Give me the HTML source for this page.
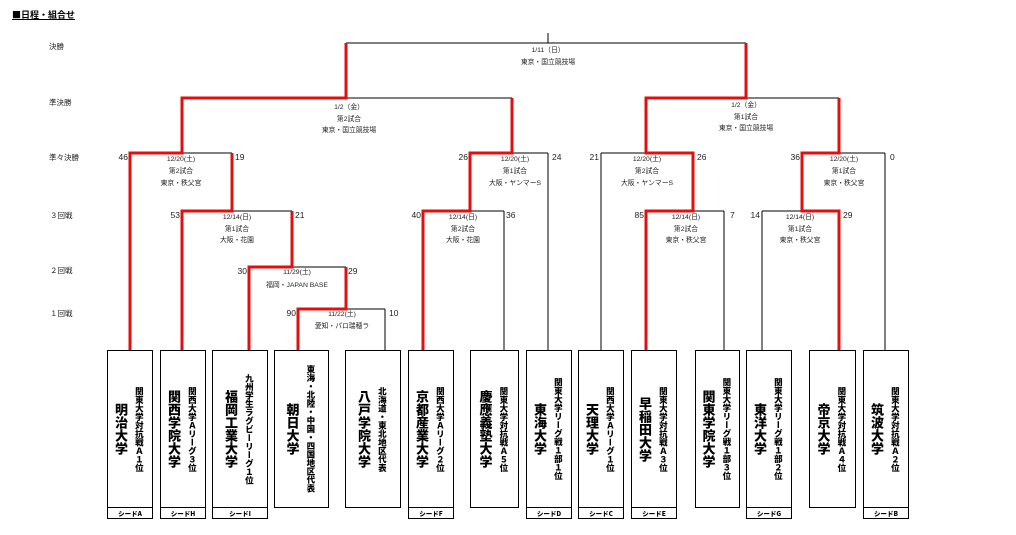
<!DOCTYPE html>
<html><head><meta charset="utf-8"><style>
html,body{margin:0;padding:0;background:#fff;}
body{width:1016px;height:535px;position:relative;overflow:hidden;font-family:"Liberation Sans","Noto Sans CJK JP",sans-serif;}
svg{position:absolute;left:0;top:0;}
.box{position:absolute;top:350px;height:158px;border:1px solid #000;box-sizing:border-box;display:flex;align-items:center;justify-content:center;background:#fff;}
.t{writing-mode:vertical-rl;text-align:center;font-weight:900;font-family:"Noto Sans CJK JP",sans-serif;line-height:1.15;}
.s{font-size:8.5px;}
.b{font-size:13px;}
.seed{position:absolute;top:508px;height:11px;border:1px solid #000;border-top:none;box-sizing:border-box;font-size:6.5px;font-weight:900;text-align:center;line-height:10px;font-family:"Noto Sans CJK JP",sans-serif;}
.lbl{position:absolute;font-size:7.5px;color:#222;font-family:"Noto Sans CJK JP",sans-serif;}
</style></head><body>
<div style="position:absolute;left:12px;top:8px;font-size:9px;font-weight:bold;text-decoration:underline;font-family:'Noto Sans CJK JP',sans-serif;">■日程・組合せ</div>
<div class="lbl" style="left:49px;top:41px">決勝</div>
<div class="lbl" style="left:49px;top:97px">準決勝</div>
<div class="lbl" style="left:49px;top:152px">準々決勝</div>
<div class="lbl" style="left:50px;top:210px">３回戦</div>
<div class="lbl" style="left:50px;top:265px">２回戦</div>
<div class="lbl" style="left:50px;top:308px">１回戦</div>

<svg width="1016" height="535" viewBox="0 0 1016 535">
<g stroke="#000" stroke-width="1" fill="none">
<path d="M130 350V153M182 350V211M249 350V267M298 350V309M385 350V309M423 350V211M504 350V211M548 350V153M601 350V153M646 350V211M724 350V211M762 350V211M839 350V211M885 350V153"/>
<path d="M346 309V267M292 267V211M232 211V153M182 153V98M470 211V153M512 153V98M346 98V43M548 43V33M746 98V43M646 153V98M693 211V153M839 153V98M802 211V153"/>
<path d="M298 309H385M249 267H346M182 211H292M423 211H504M646 211H724M762 211H839M130 153H232M470 153H548M601 153H693M802 153H885M182 98H512M646 98H839M346 43H746"/>
</g>
<g stroke="#e01010" stroke-width="3" fill="none" stroke-linejoin="miter">
<polyline points="130,350 130,153 182,153 182,98 346,98 346,43"/>
<polyline points="182,350 182,211 232,211 232,153"/>
<polyline points="249,350 249,267 292,267 292,211"/>
<polyline points="298,350 298,309 346,309 346,267"/>
<polyline points="423,350 423,211 470,211 470,153 512,153 512,98"/>
<polyline points="646,350 646,211 693,211 693,153 646,153 646,98 746,98 746,43"/>
<polyline points="839,350 839,211 802,211 802,153 839,153 839,98"/>
</g>
<g font-family="Liberation Sans, Noto Sans CJK JP, sans-serif" font-size="8.5" fill="#222">
<text x="128" y="160" text-anchor="end">46</text><text x="235" y="160">19</text>
<text x="180" y="218" text-anchor="end">53</text><text x="295" y="218">21</text>
<text x="247" y="274" text-anchor="end">30</text><text x="348" y="274">29</text>
<text x="296" y="316" text-anchor="end">90</text><text x="389" y="316">10</text>
<text x="421" y="218" text-anchor="end">40</text><text x="506" y="218">36</text>
<text x="468" y="160" text-anchor="end">26</text><text x="552" y="160">24</text>
<text x="599" y="160" text-anchor="end">21</text><text x="697" y="160">26</text>
<text x="644" y="218" text-anchor="end">85</text><text x="730" y="218">7</text>
<text x="760" y="218" text-anchor="end">14</text><text x="843" y="218">29</text>
<text x="800" y="160" text-anchor="end">36</text><text x="890" y="160">0</text>
</g>
<g font-family="Liberation Sans, Noto Sans CJK JP, sans-serif" font-size="6.8" fill="#222" text-anchor="middle">
<text x="548" y="52">1/11（日）</text><text x="548" y="64">東京・国立競技場</text>
<text x="349" y="109">1/2（金）</text><text x="349" y="121">第2試合</text><text x="349" y="132">東京・国立競技場</text>
<text x="746" y="107">1/2（金）</text><text x="746" y="119">第1試合</text><text x="746" y="130">東京・国立競技場</text>
<text x="181" y="161">12/20(土)</text><text x="181" y="173">第2試合</text><text x="181" y="185">東京・秩父宮</text>
<text x="237" y="219">12/14(日)</text><text x="237" y="231">第1試合</text><text x="237" y="242">大阪・花園</text>
<text x="297" y="274">11/29(土)</text><text x="297" y="287">福岡・JAPAN BASE</text>
<text x="342" y="316">11/22(土)</text><text x="342" y="328">愛知・パロ瑞穂ラ</text>
<text x="463" y="219">12/14(日)</text><text x="463" y="231">第2試合</text><text x="463" y="242">大阪・花園</text>
<text x="515" y="161">12/20(土)</text><text x="515" y="173">第1試合</text><text x="515" y="185">大阪・ヤンマーS</text>
<text x="647" y="161">12/20(土)</text><text x="647" y="173">第2試合</text><text x="647" y="185">大阪・ヤンマーS</text>
<text x="686" y="219">12/14(日)</text><text x="686" y="231">第2試合</text><text x="686" y="242">東京・秩父宮</text>
<text x="844" y="161">12/20(土)</text><text x="844" y="173">第1試合</text><text x="844" y="185">東京・秩父宮</text>
<text x="800" y="219">12/14(日)</text><text x="800" y="231">第1試合</text><text x="800" y="242">東京・秩父宮</text>
</g>
</svg>

<div class="box" style="left:107px;width:46px"><div class="t"><span class="s">関東大学対抗戦Ａ１位</span><br><span class="b">明治大学</span></div></div>
<div class="seed" style="left:107px;width:46px">シードA</div>
<div class="box" style="left:160px;width:46px"><div class="t"><span class="s">関西大学Ａリーグ３位</span><br><span class="b">関西学院大学</span></div></div>
<div class="seed" style="left:160px;width:46px">シードH</div>
<div class="box" style="left:212px;width:56px"><div class="t"><span class="s">九州学生ラグビーリーグ１位</span><br><span class="b">福岡工業大学</span></div></div>
<div class="seed" style="left:212px;width:56px">シードI</div>
<div class="box" style="left:274px;width:55px"><div class="t"><span class="s">東海・北陸・中国・四国地区代表</span><br><span class="b">朝日大学</span></div></div>
<div class="box" style="left:345px;width:56px"><div class="t"><span class="s">北海道・東北地区代表</span><br><span class="b">八戸学院大学</span></div></div>
<div class="box" style="left:408px;width:46px"><div class="t"><span class="s">関西大学Ａリーグ２位</span><br><span class="b">京都産業大学</span></div></div>
<div class="seed" style="left:408px;width:46px">シードF</div>
<div class="box" style="left:470px;width:49px"><div class="t"><span class="s">関東大学対抗戦Ａ５位</span><br><span class="b">慶應義塾大学</span></div></div>
<div class="box" style="left:526px;width:46px"><div class="t"><span class="s">関東大学リーグ戦１部１位</span><br><span class="b">東海大学</span></div></div>
<div class="seed" style="left:526px;width:46px">シードD</div>
<div class="box" style="left:578px;width:46px"><div class="t"><span class="s">関西大学Ａリーグ１位</span><br><span class="b">天理大学</span></div></div>
<div class="seed" style="left:578px;width:46px">シードC</div>
<div class="box" style="left:631px;width:46px"><div class="t"><span class="s">関東大学対抗戦Ａ３位</span><br><span class="b">早稲田大学</span></div></div>
<div class="seed" style="left:631px;width:46px">シードE</div>
<div class="box" style="left:695px;width:45px"><div class="t"><span class="s">関東大学リーグ戦１部３位</span><br><span class="b">関東学院大学</span></div></div>
<div class="box" style="left:746px;width:46px"><div class="t"><span class="s">関東大学リーグ戦１部２位</span><br><span class="b">東洋大学</span></div></div>
<div class="seed" style="left:746px;width:46px">シードG</div>
<div class="box" style="left:809px;width:47px"><div class="t"><span class="s">関東大学対抗戦Ａ４位</span><br><span class="b">帝京大学</span></div></div>
<div class="box" style="left:863px;width:46px"><div class="t"><span class="s">関東大学対抗戦Ａ２位</span><br><span class="b">筑波大学</span></div></div>
<div class="seed" style="left:863px;width:46px">シードB</div>
</body></html>
